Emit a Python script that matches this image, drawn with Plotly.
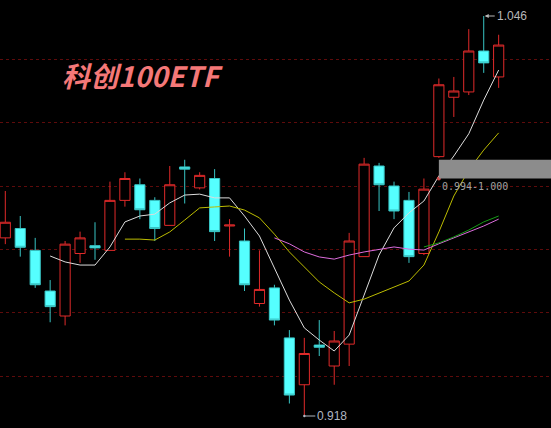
"""K-line chart for 科创100ETF in a dark trading-terminal style."""

import plotly.graph_objects as go

TITLE = "科创100ETF"

# one entry per daily candle, left to right
days = list(range(34))
open_ = [0.975, 0.978, 0.971, 0.958, 0.950, 0.970, 0.9725, 0.971, 0.987, 0.992,
         0.987, 0.979, 0.9977, 0.991, 0.994, 0.9788, 0.974, 0.954, 0.959, 0.943,
         0.928, 0.9407, 0.934, 0.941, 0.969, 0.998, 0.9916, 0.987, 0.970, 1.001,
         1.020, 1.0217, 1.0348, 1.0265]
close = [0.980, 0.972, 0.960, 0.953, 0.973, 0.975, 0.9718, 0.987, 0.994, 0.984,
         0.978, 0.992, 0.997, 0.995, 0.977, 0.9791, 0.960, 0.9585, 0.9487, 0.9247,
         0.938, 0.940, 0.942, 0.974, 0.9986, 0.992, 0.9836, 0.969, 0.9906, 1.024,
         1.022, 1.0348, 1.031, 1.0367]
high = [0.990, 0.982, 0.975, 0.9615, 0.974, 0.977, 0.980, 0.993, 0.996, 0.994,
        0.988, 0.998, 1.000, 0.996, 0.997, 0.981, 0.978, 0.971, 0.960, 0.9455,
        0.943, 0.9487, 0.9452, 0.9766, 1.0006, 0.999, 0.993, 0.9897, 0.994, 1.026,
        1.0265, 1.0418, 1.046, 1.040]
low = [0.973, 0.969, 0.959, 0.948, 0.947, 0.967, 0.968, 0.971, 0.985, 0.981,
       0.974, 0.979, 0.986, 0.9905, 0.974, 0.969, 0.958, 0.953, 0.947, 0.922,
       0.918, 0.9372, 0.928, 0.934, 0.969, 0.9836, 0.981, 0.967, 0.9695, 1.0006,
       1.0137, 1.0207, 1.0278, 1.023]

# moving averages as shown on the chart (None before each line begins)
ma_white = [None, None, None, 0.9692, 0.9673, 0.9663, 0.9663, 0.9721, 0.9801, 0.9820,
            0.9826, 0.9862, 0.9887, 0.9890, 0.9878, 0.9878, 0.9820, 0.9756, 0.9654, 0.9551,
            0.9462, 0.9423, 0.9388, 0.9439, 0.9567, 0.9695, 0.9782, 0.9830, 0.9868, 0.9948,
            1.0012, 1.0083, 1.0191, 1.0287]
ma_yellow = [None] * 8 + [0.9746, 0.9746, 0.9743, 0.9769, 0.9807, 0.9846, 0.9849, 0.9852,
                          0.9839, 0.9814, 0.9762, 0.9705, 0.9657, 0.9609, 0.9574, 0.9542,
                          0.9554, 0.9574, 0.9593, 0.9612, 0.9663, 0.9769, 0.9884, 0.9967,
                          1.0031, 1.0086]
ma_magenta = [None] * 18 + [0.9750, 0.9731, 0.9705, 0.9689, 0.9682, 0.9695, 0.9705, 0.9714,
                            0.9721, 0.9714, 0.9711, 0.9731, 0.9750, 0.9769, 0.9788, 0.9810]
ma_green = [None] * 28 + [0.9721, 0.9734, 0.9753, 0.9775, 0.9801, 0.9820]

grid_levels = [0.9307, 0.9510, 0.9713, 0.9916, 1.0119, 1.0321]

max_day, max_price = 32, 1.046
min_day, min_price = 20, 0.918
band_day, band_low, band_high = 29, 0.994, 1.000

RED = "#e02a2a"
CYAN = "#55ffff"

fig = go.Figure()
fig.add_trace(go.Candlestick(
    x=days, open=open_, high=high, low=low, close=close,
    increasing=dict(line=dict(color=RED, width=1), fillcolor="#000000"),
    decreasing=dict(line=dict(color="#38c4c4", width=1), fillcolor=CYAN),
    whiskerwidth=0, hoverinfo="skip", showlegend=False,
))

for values, color in [(ma_white, "#dcdcdc"), (ma_yellow, "#bcbc00"),
                      (ma_magenta, "#dc6cdc"), (ma_green, "#169c16")]:
    fig.add_trace(go.Scatter(x=days, y=values, mode="lines",
                             line=dict(color=color, width=1),
                             hoverinfo="skip", showlegend=False))

fig.add_shape(type="rect", x0=band_day, x1=40, y0=band_low, y1=band_high,
              fillcolor="#8c8c8c", line=dict(width=0), layer="above")
fig.add_trace(go.Scatter(x=[band_day], y=[band_low], mode="markers",
                         marker=dict(size=4, color="#d04848"),
                         hoverinfo="skip", showlegend=False))

fig.add_annotation(x=band_day, y=band_low, text=f"{band_low:.3f}-{band_high:.3f}",
                   showarrow=False, xanchor="left", yanchor="top", xshift=1,
                   font=dict(family="DejaVu Sans Mono", size=10, color="#a0a0a0"))
fig.add_annotation(x=max_day, y=max_price, text=f"{max_price:.3f}", showarrow=True,
                   ax=11, ay=0, xanchor="left", arrowhead=2, arrowsize=0.8,
                   arrowwidth=1, arrowcolor="#b8b8b8", standoff=1,
                   font=dict(family="Liberation Sans", size=12, color="#b8b8b8"))
fig.add_annotation(x=min_day, y=min_price, text=f"{min_price:.3f}", showarrow=True,
                   ax=11, ay=0, xanchor="left", arrowhead=6, arrowsize=0.6,
                   arrowwidth=1, arrowcolor="#b0b6c0", standoff=0,
                   font=dict(family="Liberation Sans", size=12, color="#b0b6c0"))

fig.add_annotation(xref="paper", yref="paper", x=0.108, y=0.825, text=TITLE,
                   showarrow=False, xanchor="left", yanchor="middle",
                   font=dict(family="Noto Sans CJK SC", size=28, color="#f47878",
                             style="italic", weight=700))

fig.update_layout(
    width=551, height=428,
    margin=dict(l=0, r=0, t=0, b=0),
    plot_bgcolor="#000000", paper_bgcolor="#000000",
    boxgap=0.32, boxgroupgap=0,
    xaxis=dict(range=[-0.3545, 36.5], visible=False, rangeslider=dict(visible=False),
               showgrid=False),
    yaxis=dict(range=[0.91416, 1.05112], tickvals=grid_levels, showticklabels=False,
               showgrid=True, gridcolor="#5e0b0b", griddash="dot", gridwidth=1,
               zeroline=False, showline=False),
)

fig.write_html("out.html", config={"displayModeBar": False},
               post_script="document.body.style.margin='0';")
